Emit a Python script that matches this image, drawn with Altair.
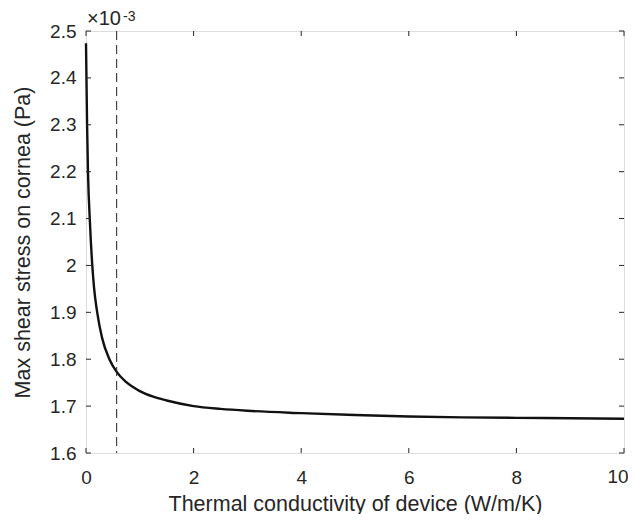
import altair as alt
import pandas as pd

# Data (stress in units of 1e-3 Pa)
conductivity = [0, 0.02, 0.037, 0.074, 0.117, 0.15, 0.208, 0.30, 0.435, 0.57, 0.75,
                1.0, 1.25, 1.5, 2.0, 2.5, 3.0, 4.0, 5.0, 6.0, 7.0, 8.0, 9.0, 10.0]
stress = [2.474, 2.30, 2.20, 2.09, 2.00, 1.952, 1.90, 1.845, 1.80, 1.773, 1.751,
          1.732, 1.720, 1.712, 1.700, 1.694, 1.690, 1.685, 1.681, 1.678, 1.676, 1.675, 1.674, 1.673]
dashed_at = [0.57]
x_ticks = [0, 2, 4, 6, 8, 10]
y_ticks = [1.6, 1.7, 1.8, 1.9, 2.0, 2.1, 2.2, 2.3, 2.4, 2.5]
exp_base = ["×10"]
exp_power = ["-3"]

W, H = 538, 422
FONT = "Liberation Sans"
AX = "#262626"

df = pd.DataFrame({"k": conductivity, "s": stress})
xs = alt.Scale(domain=[0, 10], nice=False, zero=False)
ys = alt.Scale(domain=[1.6, 2.5], nice=False, zero=False)

line = alt.Chart(df).mark_line(color="#111111", strokeWidth=2.4, interpolate="monotone").encode(
    x=alt.X("k:Q", scale=xs,
            axis=alt.Axis(values=x_ticks, title="Thermal conductivity of device (W/m/K)",
                          grid=False, ticks=False, domain=False, labelFontSize=19,
                          labelPadding=15, titleFontSize=21.5, titlePadding=6,
                          labelFlush=False, labelOverlap=False,
                          labelExpr="datum.value == 10 ? '' : datum.label",
                          labelColor=AX, titleColor=AX, labelFont=FONT, titleFont=FONT,
                          titleFontWeight="normal")),
    y=alt.Y("s:Q", scale=ys,
            axis=alt.Axis(values=y_ticks, format=".1~f", title="Max shear stress on cornea (Pa)",
                          grid=False, ticks=False, domain=False, labelFontSize=19,
                          labelPadding=10, titleFontSize=21.5, titlePadding=15,
                          labelFlush=False, labelOverlap=False,
                          labelColor=AX, titleColor=AX, labelFont=FONT, titleFont=FONT,
                          titleFontWeight="normal")),
)

vline = alt.Chart(pd.DataFrame({"x": dashed_at})).mark_rule(
    color="#222222", strokeWidth=1, strokeDash=[9, 5]).encode(x=alt.X("x:Q", scale=xs))

xt = pd.DataFrame({"v": x_ticks})
yt = pd.DataFrame({"v": y_ticks})
xb = alt.Chart(xt).mark_rule(color=AX, strokeWidth=1).encode(
    x=alt.X("v:Q", scale=xs), y=alt.value(H), y2=alt.value(H - 5))
xtop = alt.Chart(xt).mark_rule(color=AX, strokeWidth=1).encode(
    x=alt.X("v:Q", scale=xs), y=alt.value(0), y2=alt.value(5))
yl = alt.Chart(yt).mark_rule(color=AX, strokeWidth=1).encode(
    y=alt.Y("v:Q", scale=ys), x=alt.value(0), x2=alt.value(5))
yr = alt.Chart(yt).mark_rule(color=AX, strokeWidth=1).encode(
    y=alt.Y("v:Q", scale=ys), x=alt.value(W), x2=alt.value(W - 5))

# last x tick label, nudged inward so it stays inside the page
last_lbl = alt.Chart(pd.DataFrame({"v": [x_ticks[-1]], "t": [str(x_ticks[-1])]})).mark_text(
    align="center", baseline="top", fontSize=19, font=FONT, color=AX, dx=-6).encode(
    x=alt.X("v:Q", scale=xs), y=alt.value(H + 15), text="t:N")

e1 = alt.Chart(pd.DataFrame({"t": exp_base})).mark_text(
    align="left", baseline="alphabetic", fontSize=20, font=FONT, color=AX).encode(
    text="t:N", x=alt.value(1), y=alt.value(-6))
e2 = alt.Chart(pd.DataFrame({"t": exp_power})).mark_text(
    align="left", baseline="alphabetic", fontSize=14, font=FONT, color=AX).encode(
    text="t:N", x=alt.value(37), y=alt.value(-10))

chart = alt.layer(line, vline, xb, xtop, yl, yr, last_lbl, e1, e2).properties(
    width=W, height=H,
    autosize=alt.AutoSizeParams(type="none"),
    padding={"left": 78, "top": 23, "right": 4, "bottom": 61},
).configure_view(stroke=AX, strokeWidth=1).configure(background="white")

chart.save("out.html", embed_options={"renderer": "svg", "actions": False})
